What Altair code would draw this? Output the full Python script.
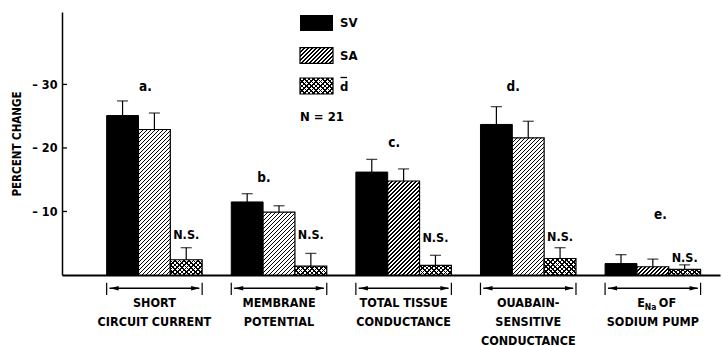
import math
import altair as alt
import pandas as pd

# ---------------- data ----------------
groups = ["SCC", "MP", "TTC", "OSC", "ENA"]
series = ["SV", "SA", "d"]
sv_values = [25.1, 11.5, 16.2, 23.7, 1.8]
sv_errors = [2.3, 1.3, 2.0, 2.8, 1.4]
sa_values = [22.9, 9.9, 14.8, 21.6, 1.3]
sa_errors = [2.6, 1.0, 1.9, 2.6, 1.2]
d_values = [2.4, 1.4, 1.5, 2.6, 0.9]
d_errors = [1.9, 2.0, 1.6, 1.7, 0.7]
letters = ["a.", "b.", "c.", "d.", "e."]
letter_levels = [29.6, 15.3, 20.8, 29.6, 9.4]
ns_levels = [6.3, 6.3, 5.8, 6.0, 2.7]
label_line1 = ["SHORT", "MEMBRANE", "TOTAL TISSUE", "OUABAIN-", ""]
label_line2 = ["CIRCUIT CURRENT", "POTENTIAL", "CONDUCTANCE", "SENSITIVE", "SODIUM PUMP"]
label_line3 = ["", "", "", "CONDUCTANCE", ""]
y_ticks = [10, 20, 30]
n_text = "N = 21"

# ---------------- layout / style ----------------
W, H = 658, 263
Y_MAX = 41.4
FONT = "DejaVu Sans Condensed, Liberation Sans Narrow, sans-serif"
LBL = 12.5
P_INNER, P_OUTER, ALIGN = 0.2335, 0.257, 0.697
STEP = W / (len(groups) - P_INNER + 2 * P_OUTER)
BAR_W = STEP * (1 - P_INNER) / 3
letter_dx = [-9, -15, -9.5, -15, 7.5]

rows = []
for i, g in enumerate(groups):
    for s, vals, errs in (("SV", sv_values, sv_errors), ("SA", sa_values, sa_errors), ("d", d_values, d_errors)):
        rows.append({"group": g, "series": s, "value": vals[i], "top": vals[i] + errs[i]})
df = pd.DataFrame(rows)
gdf = pd.DataFrame({"group": groups, "l1": label_line1, "l2": label_line2, "l3": label_line3})

x_scale = alt.Scale(domain=groups, paddingInner=P_INNER, paddingOuter=P_OUTER, align=ALIGN)
xo_scale = alt.Scale(domain=series, paddingInner=0, paddingOuter=0)
y_scale = alt.Scale(domain=[0, Y_MAX], nice=False, zero=True)

x_axis = alt.Axis(labels=False, ticks=False, title=None, grid=False,
                  domainColor="black", domainWidth=2)
y_axis = alt.Axis(values=y_ticks, ticks=False, grid=False, title="PERCENT CHANGE",
                  labelExpr="'–  ' + datum.value", labelFont=FONT, labelFontSize=12.5,
                  labelFontWeight="bold", labelColor="black", labelPadding=5,
                  titleFont=FONT, titleFontSize=11.5, titleFontWeight="bold", titleColor="black",
                  titlePadding=5, domainColor="black", domainWidth=1.5)


def X(field="group", **kw):
    return alt.X(f"{field}:N", scale=x_scale, axis=x_axis, **kw)


def XO():
    return alt.XOffset("series:N", scale=xo_scale)


def Y(field):
    return alt.Y(f"{field}:Q", scale=y_scale, axis=y_axis)


def stripe_gradient(w, h, period, frac, fg, bg, anti=False):
    L = w + h
    a = w * L / (w * w + h * h)
    b = h * L / (w * w + h * h)
    stops = []
    i = 0
    while i * period < L:
        s = i * period
        e = min(s + frac * period, L)
        n = min(s + period, L)
        stops += [(s / L, fg), (e / L, fg), (e / L, bg), (n / L, bg)]
        i += 1
    stops = [{"offset": round(o, 5), "color": c} for o, c in stops]
    if anti:
        return {"gradient": "linear", "x1": 0, "y1": 1, "x2": a, "y2": 1 - b, "stops": stops}
    return {"gradient": "linear", "x1": 0, "y1": 0, "x2": a, "y2": b, "stops": stops}


def sa_fill(w, h):
    return stripe_gradient(w, h, 4.0, 0.42, "black", "white")


def d_fills(w, h):
    return (stripe_gradient(w, h, 4.6, 0.36, "black", "white"),
            stripe_gradient(w, h, 4.6, 0.36, "black", "transparent", anti=True))


layers = []

# SV bars (solid black)
layers.append(alt.Chart(df[df.series == "SV"]).mark_bar(color="black", stroke="black", strokeWidth=1)
              .encode(x=X(), xOffset=XO(), y=Y("value")))

# SA and d bars: one layer per bar so the hatch fits the bar box
for _, r in df[df.series != "SV"].iterrows():
    h = r["value"] * H / Y_MAX
    one = df[(df.group == r["group"]) & (df.series == r["series"])]
    if r["series"] == "SA":
        layers.append(alt.Chart(one).mark_bar(fill=sa_fill(BAR_W, h), stroke="black", strokeWidth=1.2)
                      .encode(x=X(), xOffset=XO(), y=Y("value")))
    else:
        f1, f2 = d_fills(BAR_W, h)
        layers.append(alt.Chart(one).mark_bar(fill=f1, strokeWidth=0)
                      .encode(x=X(), xOffset=XO(), y=Y("value")))
        layers.append(alt.Chart(one).mark_bar(fill=f2, stroke="black", strokeWidth=1.2)
                      .encode(x=X(), xOffset=XO(), y=Y("value")))

# error bars
layers.append(alt.Chart(df).mark_rule(color="black", strokeWidth=1.2)
              .encode(x=X(), xOffset=XO(), y=Y("value"), y2="top:Q"))
layers.append(alt.Chart(df).mark_tick(color="black", orient="horizontal", size=11, thickness=1.3)
              .encode(x=X(), xOffset=XO(), y=Y("top")))

# letters a.-e.
for i, g in enumerate(groups):
    ldf = pd.DataFrame({"group": [g], "level": [letter_levels[i]], "txt": [letters[i]]})
    layers.append(alt.Chart(ldf).mark_text(font=FONT, fontSize=13.5, fontWeight="bold", color="black",
                                           baseline="middle", dx=letter_dx[i])
                  .encode(x=X(), y=Y("level"), text="txt:N"))

# N.S. labels
nsdf = pd.DataFrame({"group": groups, "series": ["d"] * 5, "level": ns_levels, "txt": ["N.S."] * 5})
layers.append(alt.Chart(nsdf).mark_text(font=FONT, fontSize=LBL, fontWeight="bold", color="black",
                                        baseline="middle")
              .encode(x=X(), xOffset=XO(), y=Y("level"), text="txt:N"))

# inward y ticks
tdf = pd.DataFrame({"tick": y_ticks})
layers.append(alt.Chart(tdf).mark_rule(color="black", strokeWidth=1.3)
              .encode(y=Y("tick"), x=alt.value(0), x2=alt.value(5)))

# brackets under each group
layers.append(alt.Chart(gdf).mark_rule(color="black", strokeWidth=1.2)
              .encode(x=X(bandPosition=0), y=alt.value(270.7), y2=alt.value(283)))
layers.append(alt.Chart(gdf).mark_rule(color="black", strokeWidth=1.2)
              .encode(x=X(bandPosition=1), y=alt.value(270.7), y2=alt.value(283)))
layers.append(alt.Chart(gdf).mark_bar(color="black", width=alt.RelativeBandSize(band=0.94))
              .encode(x=X(), y=alt.value(275.6), y2=alt.value(277.1)))
layers.append(alt.Chart(gdf).mark_point(shape="M 0.7 0 L 2.4 -0.45 L 2.4 0.45 Z", filled=True,
                                        size=100, color="black", opacity=1, strokeWidth=0)
              .encode(x=X(bandPosition=0), y=alt.value(276.3)))
layers.append(alt.Chart(gdf).mark_point(shape="M -0.5 0 L -2.2 -0.45 L -2.2 0.45 Z", filled=True,
                                        size=100, color="black", opacity=1, strokeWidth=0)
              .encode(x=X(bandPosition=1), y=alt.value(276.3)))

# category labels
for col, yy in (("l1", 291.3), ("l2", 310.3), ("l3", 328.5)):
    layers.append(alt.Chart(gdf).mark_text(font=FONT, fontSize=LBL, fontWeight="bold", color="black",
                                           baseline="middle")
                  .encode(x=X(), y=alt.value(yy), text=f"{col}:N"))

# E_Na OF
edf = gdf[gdf.group == "ENA"]
layers.append(alt.Chart(edf).mark_text(text="E", font=FONT, fontSize=LBL, fontWeight="bold", color="black",
                                       baseline="middle", align="right", dx=-8)
              .encode(x=X(), y=alt.value(291.3)))
layers.append(alt.Chart(edf).mark_text(text="Na", font=FONT, fontSize=8.5, fontWeight="bold", color="black",
                                       baseline="middle", align="left", dx=-8, dy=4)
              .encode(x=X(), y=alt.value(291.3)))
layers.append(alt.Chart(edf).mark_text(text="OF", font=FONT, fontSize=LBL, fontWeight="bold", color="black",
                                       baseline="middle", align="left", dx=6)
              .encode(x=X(), y=alt.value(291.3)))

# legend
one = pd.DataFrame({"k": [0]})
LX0, LX1 = 238, 271
legend_boxes = [(3, 19), (35.7, 51.3), (66, 82)]
layers.append(alt.Chart(one).mark_rect(color="black")
              .encode(x=alt.value(LX0), x2=alt.value(LX1), y=alt.value(legend_boxes[0][0]),
                      y2=alt.value(legend_boxes[0][1])))
bw, bh = LX1 - LX0, legend_boxes[1][1] - legend_boxes[1][0]
layers.append(alt.Chart(one).mark_rect(fill=sa_fill(bw, bh), stroke="black", strokeWidth=1.2)
              .encode(x=alt.value(LX0), x2=alt.value(LX1), y=alt.value(legend_boxes[1][0]),
                      y2=alt.value(legend_boxes[1][1])))
f1, f2 = d_fills(bw, legend_boxes[2][1] - legend_boxes[2][0])
layers.append(alt.Chart(one).mark_rect(fill=f1, strokeWidth=0)
              .encode(x=alt.value(LX0), x2=alt.value(LX1), y=alt.value(legend_boxes[2][0]),
                      y2=alt.value(legend_boxes[2][1])))
layers.append(alt.Chart(one).mark_rect(fill=f2, stroke="black", strokeWidth=1.2)
              .encode(x=alt.value(LX0), x2=alt.value(LX1), y=alt.value(legend_boxes[2][0]),
                      y2=alt.value(legend_boxes[2][1])))
for s, yy in zip(series, (11, 43.5, 74.5)):
    layers.append(alt.Chart(one).mark_text(text=s, font=FONT, fontSize=13, fontWeight="bold", color="black",
                                           align="left", baseline="middle")
                  .encode(x=alt.value(278), y=alt.value(yy)))
layers.append(alt.Chart(one).mark_rule(color="black", strokeWidth=1.3)
              .encode(x=alt.value(278.5), x2=alt.value(285), y=alt.value(65.5)))
layers.append(alt.Chart(one).mark_text(text=n_text, font=FONT, fontSize=13, fontWeight="bold", color="black",
                                       align="left", baseline="middle")
              .encode(x=alt.value(238), y=alt.value(104.7)))

chart = alt.layer(*layers).properties(
    width=W, height=H, autosize="none",
    padding={"left": 62, "top": 12, "right": 2, "bottom": 71},
    background="white",
).configure_view(stroke=None)

chart.save("out.html", embed_options={"renderer": "svg", "actions": False})
